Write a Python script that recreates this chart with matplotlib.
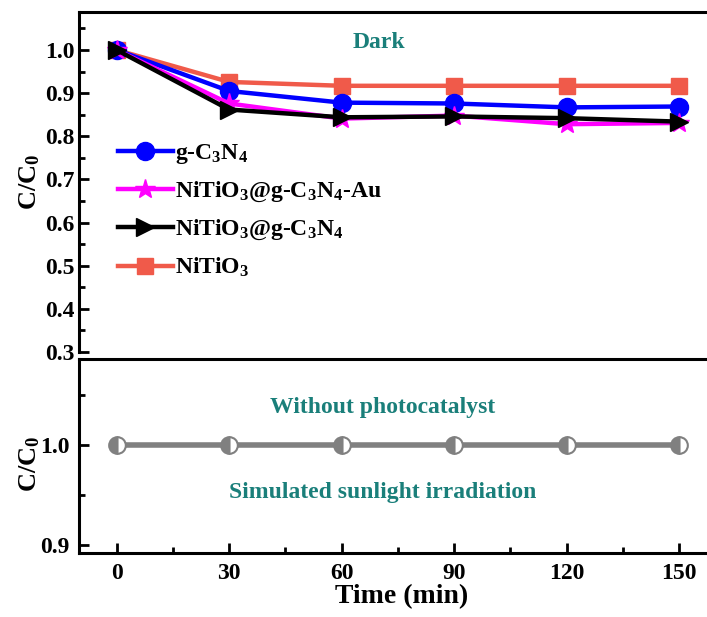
import numpy as np
import matplotlib
matplotlib.use('Agg')
import matplotlib.pyplot as plt
from matplotlib.ticker import MultipleLocator

plt.rcParams['font.family'] = 'Liberation Serif'
plt.rcParams['font.weight'] = 'bold'
plt.rcParams['axes.labelweight'] = 'bold'
plt.rcParams['mathtext.fontset'] = 'custom'
plt.rcParams['mathtext.rm'] = 'Liberation Serif:bold'
plt.rcParams['mathtext.bf'] = 'Liberation Serif:bold'
plt.rcParams['mathtext.it'] = 'Liberation Serif:bold'

# time points (min)
t = [0, 30, 60, 90, 120, 150]
# C/C0 in the dark
gcn = [1.0, 0.905, 0.878, 0.876, 0.867, 0.869]
nto_gcn_au = [1.0, 0.876, 0.841, 0.848, 0.828, 0.831]
nto_gcn = [1.0, 0.862, 0.844, 0.846, 0.842, 0.834]
nto = [1.0, 0.926, 0.917, 0.917, 0.917, 0.917]
# without photocatalyst, simulated sunlight
blank = [1.0, 1.0, 1.0, 1.0, 1.0, 1.0]

labels = [r'g-C$_\mathbf{3}$N$_\mathbf{4}$',
          r'NiTiO$_\mathbf{3}$@g-C$_\mathbf{3}$N$_\mathbf{4}$-Au',
          r'NiTiO$_\mathbf{3}$@g-C$_\mathbf{3}$N$_\mathbf{4}$',
          r'NiTiO$_\mathbf{3}$']

teal = '#1a7f7a'

fig = plt.figure(figsize=(7.07, 6.17), dpi=100)
ax1 = fig.add_axes([0.112, 0.4295, 0.912, 0.551])
ax2 = fig.add_axes([0.112, 0.1037, 0.912, 0.3144])

lw = 3.2
ax1.plot(t, nto, color='#f05a4a', lw=lw, marker='s', ms=12, label=labels[3], zorder=2)
ax1.plot(t, gcn, color='#0000ff', lw=lw, marker='o', ms=13, label=labels[0], zorder=3)
ax1.plot(t, nto_gcn_au, color='#ff00ff', lw=lw, marker='*', ms=15, label=labels[1], zorder=4)
ax1.plot(t, nto_gcn, color='black', lw=lw, marker='>', ms=13, label=labels[2], zorder=5)

h, l = ax1.get_legend_handles_labels()
order = [1, 2, 3, 0]
ax1.legend([h[i] for i in order], [l[i] for i in order], loc='upper left',
           bbox_to_anchor=(0.046, 0.645), frameon=False, fontsize=17,
           handlelength=2.3, handletextpad=0.1, labelspacing=0.58, borderaxespad=0.0)

ax1.text(70, 1.018, 'Dark', color=teal, fontsize=17, ha='center', va='center')

ax1.set_xlim(-10, 162)
ax1.set_ylim(0.3, 1.088)
ax1.spines['bottom'].set_visible(False)
ax1.yaxis.set_minor_locator(MultipleLocator(0.05))
ax1.set_yticks(np.arange(0.3, 1.01, 0.1))
ax1.tick_params(axis='x', bottom=False, labelbottom=False)
ax1.tick_params(axis='y', which='major', direction='in', length=7, width=2, labelsize=17)
ax1.tick_params(axis='y', which='minor', direction='in', length=4, width=2)
ax1.set_ylabel(r'C/C$_\mathbf{0}$', fontsize=19)
ax1.yaxis.set_label_coords(-0.058, 0.5)

ax2.plot(t, blank, color='#808080', lw=4, marker='o', ms=12, fillstyle='left',
         markerfacecolor='#808080', markerfacecoloralt='white', markeredgecolor='#808080',
         markeredgewidth=1.5)
ax2.text(71, 1.038, 'Without photocatalyst', color=teal, fontsize=17, ha='center', va='center')
ax2.text(71, 0.953, 'Simulated sunlight irradiation', color=teal, fontsize=17, ha='center', va='center')
ax2.set_xlim(-10, 162)
ax2.set_ylim(0.892, 1.086)
ax2.set_yticks([0.9, 1.0])
ax2.yaxis.set_minor_locator(MultipleLocator(0.05))
ax2.set_xticks(t)
ax2.xaxis.set_minor_locator(MultipleLocator(15))
ax2.tick_params(which='major', direction='in', length=7, width=2, labelsize=17, pad=7)
ax2.tick_params(which='minor', direction='in', length=4, width=2)
ax2.set_ylabel(r'C/C$_\mathbf{0}$', fontsize=19)
ax2.yaxis.set_label_coords(-0.058, 0.46)
ax2.set_xlabel('Time (min)', fontsize=20, labelpad=0)

for ax in (ax1, ax2):
    for s in ax.spines.values():
        s.set_linewidth(2.2)

fig.savefig('out.png', dpi=100)
